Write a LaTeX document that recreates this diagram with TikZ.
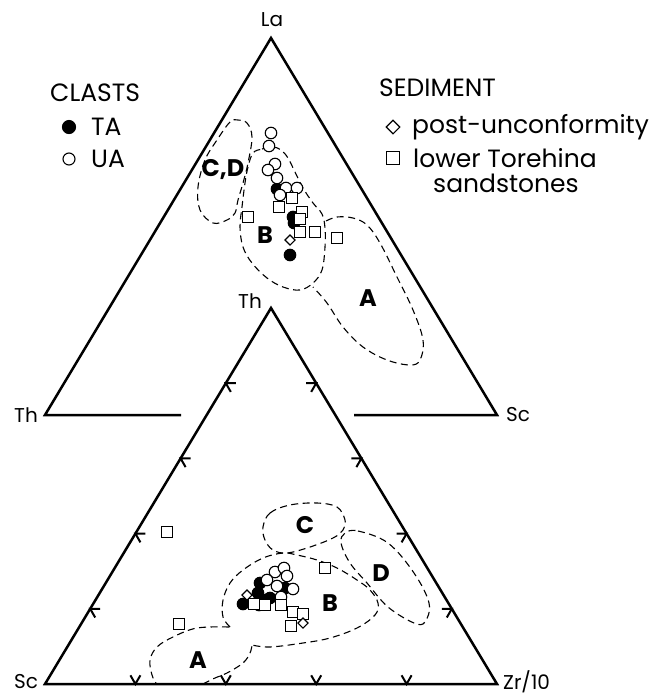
\documentclass[tikz,border=0pt]{standalone}
\usepackage{fontspec}
\setmainfont{Poppins}
\usetikzlibrary{calc,shapes.geometric}
\tikzset{
  axisline/.style = {line width=2.5pt, line join=miter},
  fieldline/.style = {line width=1.1pt, dash pattern=on 7pt off 4.5pt},
  tickmark/.style = {line width=2pt},
  ta/.style = {circle, draw, fill=black, inner sep=0pt, minimum size=11.5pt, line width=1.1pt},
  ua/.style = {circle, draw, fill=white, inner sep=0pt, minimum size=11.5pt, line width=1.1pt},
  postu/.style = {diamond, draw, fill=white, inner sep=0pt, minimum size=10.5pt, line width=1.1pt},
  lowtor/.style = {rectangle, draw, fill=white, inner sep=0pt, minimum size=10.5pt, line width=1.3pt},
  apexlabel/.style = {font=\fontsize{20}{20}\selectfont, inner sep=0pt},
  fieldlabel/.style = {font=\bfseries\fontsize{24}{24}\selectfont, inner sep=0pt},
  legendtext/.style = {font=\fontsize{25}{25}\selectfont, anchor=west, inner sep=0pt},
}

\begin{document}
\begin{tikzpicture}[x=1pt, y=-1pt]
  \useasboundingbox (0,0) rectangle (669,697);

  % upper diagram La - Th - Sc
  \coordinate (La) at (271,38);
  \coordinate (ThU) at (45,415);
  \coordinate (ScU) at (497,415);
  \coordinate (gapL) at (181,415);
  \coordinate (gapR) at (354,415);
  \draw[axisline] (gapL) -- (ThU) -- (La) -- (ScU) -- (gapR);
  \node[apexlabel] (laLab) at (272,20) {La};
  \node[apexlabel] (thLabU) at (26,415) {Th};
  \node[apexlabel] (scLabU) at (518,415) {Sc};

  % lower diagram Th - Sc - Zr/10
  \coordinate (ThL) at (271,308);
  \coordinate (ScL) at (45,684);
  \coordinate (ZrL) at (497,684);
  \draw[axisline] (ThL) -- (ScL) -- (ZrL) -- cycle;
  \node[apexlabel] (thLabL) at (250,301) {Th};
  \node[apexlabel] (scLabL) at (26,682) {Sc};
  \node[apexlabel, anchor=west] (zrLab) at (503,682) {Zr/10};

  % tick marks
  \foreach \t in {0.2,0.4,0.6,0.8} {
    \coordinate (tl) at ($(ThL)!\t!(ScL)$);
    \coordinate (tr) at ($(ThL)!\t!(ZrL)$);
    \coordinate (tb) at ($(ScL)!\t!(ZrL)$);
    \draw[tickmark] ([shift={(10,0)}]tl) -- (tl) -- ([shift={(5,8.7)}]tl);
    \draw[tickmark] ([shift={(-10,0)}]tr) -- (tr) -- ([shift={(-5,8.7)}]tr);
    \draw[tickmark] ([shift={(-5,-8.7)}]tb) -- (tb) -- ([shift={(5,-8.7)}]tb);
  }

  % fields, upper diagram
  \draw[fieldline] plot[smooth cycle, tension=0.6] coordinates {(238,120) (230,122) (217,140) (205,160) (198,187) (200,210) (213,223) (227,220) (235,213) (238,200) (243,183) (248,163) (252,137) (247,123)};
  \draw[fieldline] plot[smooth cycle, tension=0.6] coordinates {(253,153) (262,149) (273,147) (281,150) (288,158) (295,172) (303,188) (313,203) (322,214) (325,228) (325,247) (322,270) (313,283) (300,290) (283,287) (267,278) (252,263) (243,247) (240,227) (242,207) (245,183) (248,167)};
  \draw[fieldline] plot[smooth, tension=0.6] coordinates {(326,221) (337,217) (353,218) (367,225) (380,243) (397,277) (413,310) (423,340) (420,360) (410,365) (387,360) (363,347) (343,327) (327,303) (313,287)};
  \node[fieldlabel] (cdU) at (223,170) {C,D};
  \node[fieldlabel] (bU) at (265,235) {B};
  \node[fieldlabel] (aU) at (368,298) {A};

  % fields, lower diagram
  \draw[fieldline] plot[smooth cycle, tension=0.6] coordinates {(263,527) (270,513) (290,505) (317,503) (337,507) (345,520) (343,530) (333,538) (310,547) (287,553) (273,550) (265,540)};
  \draw[fieldline] plot[smooth cycle, tension=0.6] coordinates {(345,533) (358,531) (388,543) (414,573) (429,603) (425,622) (414,623) (388,607) (367,583) (350,563) (341,543)};
  \draw[fieldline] plot[smooth, tension=0.6] coordinates {(230,627) (223,617) (223,600) (230,583) (243,570) (263,558) (283,553) (297,555) (317,560) (337,568) (357,580) (370,590) (378,603) (375,615) (357,628) (330,638) (303,643) (270,647) (252,645)};
  \draw[fieldline] plot[smooth, tension=0.6] coordinates {(229,627) (197,628) (173,637) (157,647) (150,660) (152,675) (156,683)};
  \draw[fieldline] plot[smooth, tension=0.6] coordinates {(203,684) (215,678) (227,673) (243,663) (250,653) (252,645)};
  \node[fieldlabel] (cL) at (305,525) {C};
  \node[fieldlabel] (dL) at (381,573) {D};
  \node[fieldlabel] (bL) at (330,603) {B};
  \node[fieldlabel] (aL) at (198,660) {A};

  % data, upper diagram
  \foreach \x/\y [count=\i] in {277/189, 293/217, 294/223, 290/255}
    \node[ta] (taU\i) at (\x,\y) {};
  \foreach \x/\y [count=\i] in {271/133, 269/146, 275/164, 268/170, 277/178, 286/188, 297/188, 280/195}
    \node[ua] (uaU\i) at (\x,\y) {};
  \foreach \x/\y [count=\i] in {279/207, 292/198, 248/217, 302/212, 300/219, 300/232, 315/232, 337/238}
    \node[lowtor] (ltU\i) at (\x,\y) {};
  \node[postu] (puU1) at (290,240) {};

  % data, lower diagram
  \foreach \x/\y [count=\i] in {260/583, 258/593, 243/604, 270/598, 285/588, 266/600}
    \node[ta] (taL\i) at (\x,\y) {};
  \foreach \x/\y [count=\i] in {275/572, 284/568, 267/580, 287/576, 277/586, 293/589, 281/597, 259/605}
    \node[ua] (uaL\i) at (\x,\y) {};
  \foreach \x/\y [count=\i] in {167/532, 179/624, 325/568, 293/612, 303/614, 291/626, 254/604, 265/605, 281/605}
    \node[lowtor] (ltL\i) at (\x,\y) {};
  \node[postu] (puL1) at (247,595) {};
  \node[postu] (puL2) at (303,623) {};

  % legend
  \node[legendtext] (clasts) at (50,93) {CLASTS};
  \node[ta, minimum size=13pt] (taKey) at (69,127) {};
  \node[legendtext] (taTxt) at (91,127) {TA};
  \node[ua, minimum size=12pt] (uaKey) at (69,159) {};
  \node[legendtext] (uaTxt) at (91,159) {UA};
  \node[legendtext] (sediment) at (379,88) {SEDIMENT};
  \node[postu, minimum size=14pt] (puKey) at (393,127) {};
  \node[legendtext] (puTxt) at (412,127) {post-unconformity};
  \node[lowtor, minimum size=13pt] (ltKey) at (393,158) {};
  \node[legendtext] (ltTxt) at (413,158) {lower Torehina};
  \node[legendtext] (ltTxt2) at (433,183) {sandstones};
\end{tikzpicture}
\end{document}
